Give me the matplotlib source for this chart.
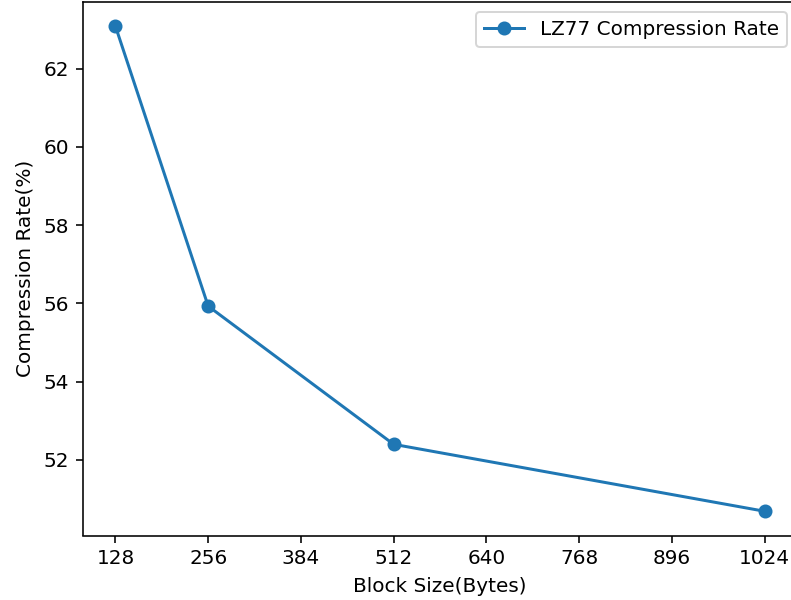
import matplotlib
matplotlib.use('Agg')
import matplotlib.pyplot as plt

block_sizes = [128, 256, 512, 1024]
compression_rates = [63.08, 55.93, 52.40, 50.69]
x_ticks = [128, 256, 384, 512, 640, 768, 896, 1024]

W, H, DPI = 791, 600, 144
fig = plt.figure(figsize=(W / DPI, H / DPI), dpi=DPI)
ax = fig.add_axes([83 / W, 64.5 / H, 714 / W, 533.5 / H])

ax.plot(block_sizes, compression_rates, marker='o', label='LZ77 Compression Rate')
ax.set_xticks(x_ticks)
ax.set_xlabel('Block Size(Bytes)')
ax.set_ylabel('Compression Rate(%)')
ax.legend()

fig.savefig('out.png', dpi=DPI)
